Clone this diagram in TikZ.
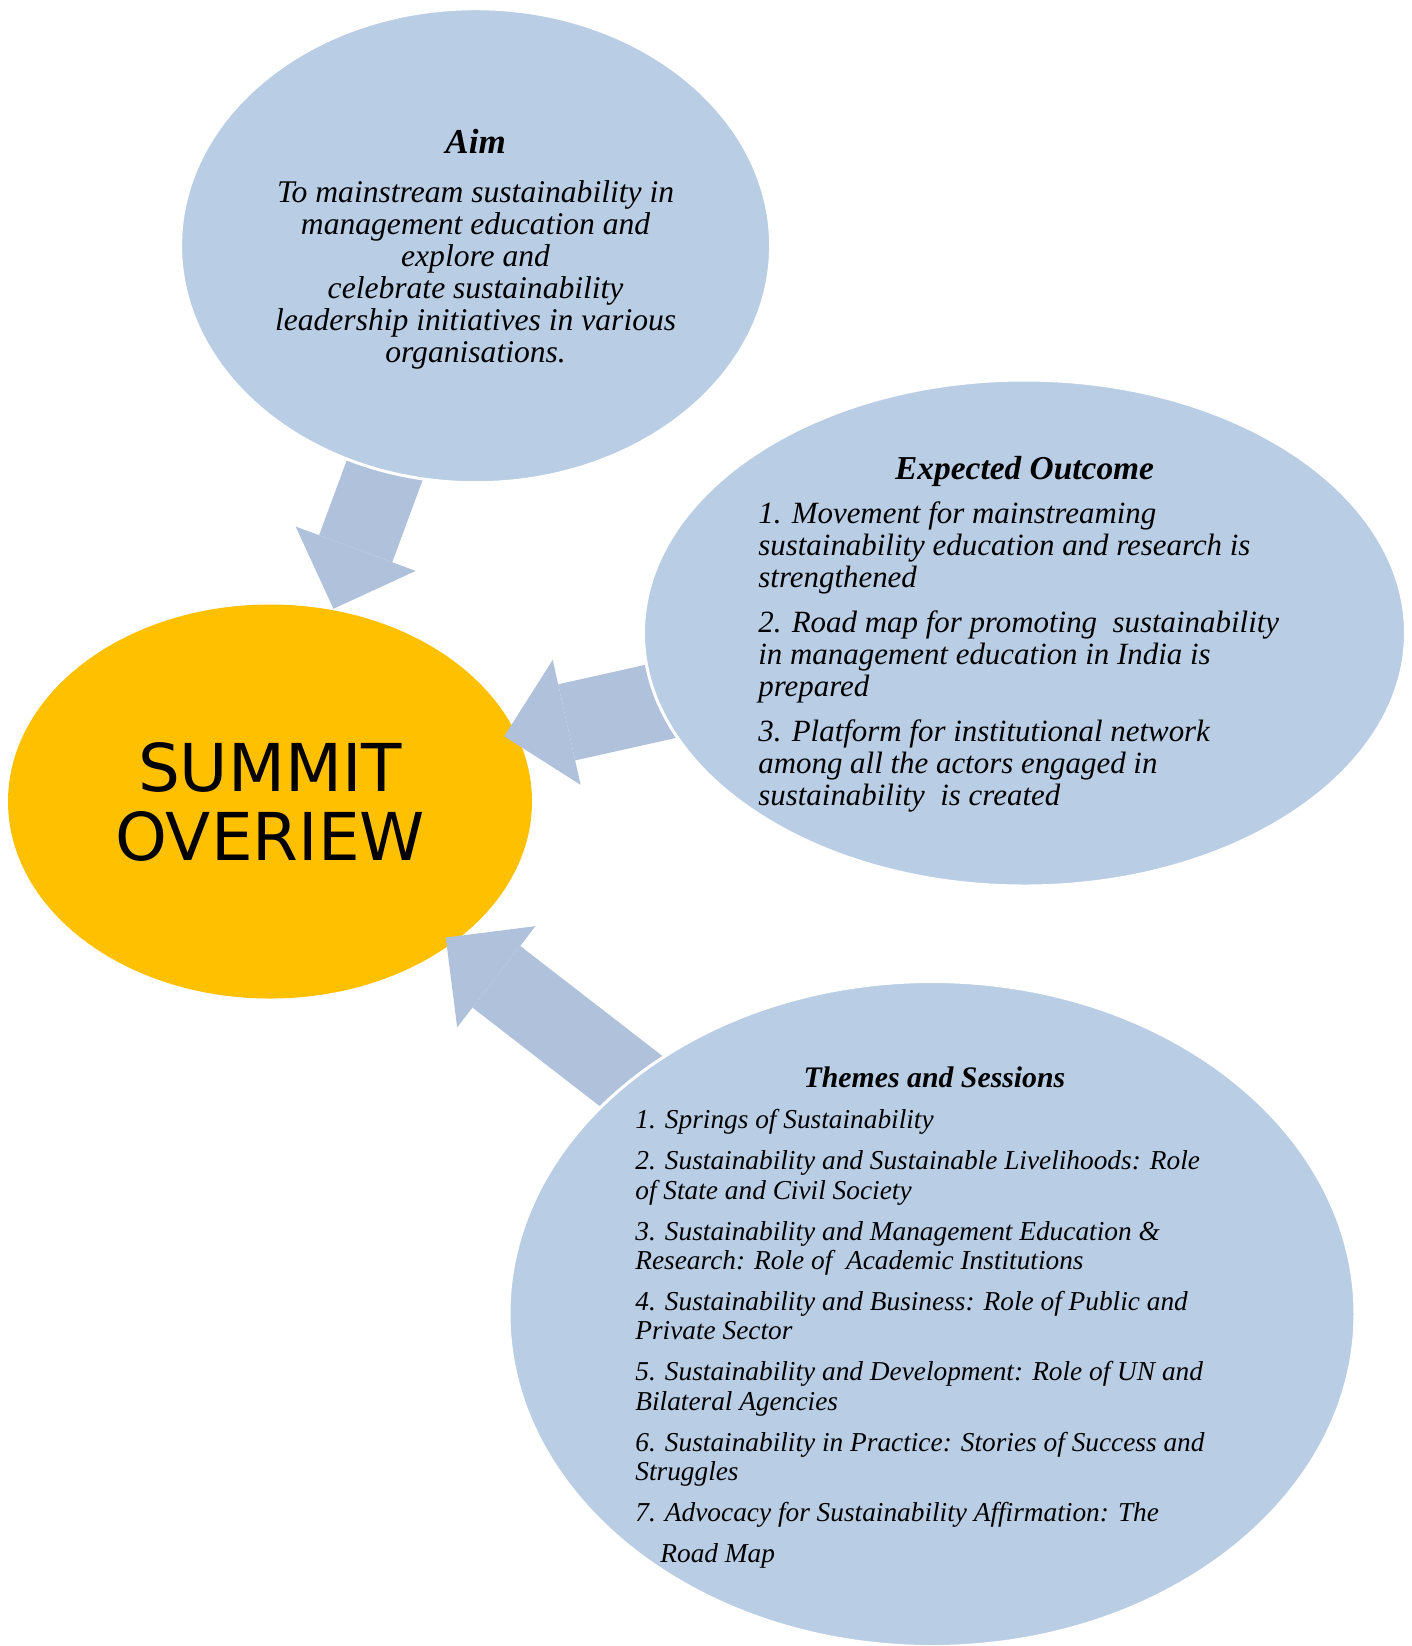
\documentclass[tikz,border=0pt]{standalone}
\usepackage{fontspec}
\setmainfont{Liberation Serif}
\newfontfamily\ovfont{DejaVu Sans}
\usetikzlibrary{shapes.geometric,arrows.meta}
\definecolor{elblue}{RGB}{185,205,229}
\definecolor{arblue}{RGB}{176,193,220}
\definecolor{ovorange}{RGB}{255,192,0}
\pgfdeclarelayer{back}
\pgfdeclarelayer{mid}
\pgfsetlayers{back,mid,main}
\tikzset{
  el/.style 2 args={ellipse, fill=elblue, draw=white, line width=1.5pt, inner sep=0pt,
    minimum width=#1, minimum height=#2},
  ov/.style={ellipse, fill=ovorange, inner sep=0pt, minimum width=262pt, minimum height=197pt,
    align=center, font=\ovfont\fontsize{33}{34.5}\selectfont},
  tx/.style={inner sep=0pt, font=\fontsize{#1}{16}\selectfont\itshape},
  tt/.style={inner sep=0pt, font=\fontsize{#1}{14.7}\selectfont\itshape},
  % shaft drawn again under the tip, so no seam shows
  ar/.style 2 args={draw=arblue, line width=39pt, shorten <=-30pt, shorten >=#1,
    -{Triangle[width=64pt, length=32pt, line width=0pt]},
    preaction={draw=arblue, -, shorten >=#2}}
}

\begin{document}
\begin{tikzpicture}[x=0.5pt, y=-0.5pt]
  \useasboundingbox (0,0) rectangle (1412,1646);

  \begin{pgfonlayer}{back}
    \node[ov] (summit) at (270,801.5) {SUMMIT\\OVERIEW};
  \end{pgfonlayer}

  \node[el={295pt}{237pt}] (aim) at (475.6,245.7) {};
  \node[el={381pt}{253pt}] (outcome) at (1024.5,633) {};
  \node[el={423pt}{332.5pt}] (themes) at (932,1314) {};

  % texts
  \node[tx=15.8, align=center] (aimtext) at (475.6,249) {{\fontsize{17.5}{16}\selectfont\bfseries Aim}\\[8.5pt]
    To mainstream sustainability in\\management education and\\explore and\\
    celebrate sustainability\\leadership initiatives in various\\organisations.};
  \node[tx=16.7] (outhead) at (1024.6,471) {\bfseries Expected Outcome};
  \node[tx=15.45, align=left, anchor=north west] (outbody) at (758,501) {%
    1. Movement for mainstreaming\\sustainability education and research is\\strengthened\\[6.5pt]
    2. Road map for promoting~ sustainability\\in management education in India is\\prepared\\[6.5pt]
    3. Platform for institutional network\\among all the actors engaged in\\sustainability~ is created};
  \node[tt=14.9] (themehead) at (934.5,1077) {\bfseries Themes and Sessions};
  \node[tt=13.66, align=left, anchor=north west] (themebody) at (635,1109) {%
    1. Springs of Sustainability\\[5.8pt]
    2. Sustainability and Sustainable Livelihoods: Role\\of State and Civil Society\\[5.8pt]
    3. Sustainability and Management Education \&\\Research: Role of~ Academic Institutions\\[5.8pt]
    4. Sustainability and Business: Role of Public and\\Private Sector\\[5.8pt]
    5. Sustainability and Development: Role of UN and\\Bilateral Agencies\\[5.8pt]
    6. Sustainability in Practice: Stories of Success and\\Struggles\\[5.8pt]
    7. Advocacy for Sustainability Affirmation: The\\[5.8pt]
    \hspace*{12.5pt}Road Map};

  \begin{pgfonlayer}{mid}
    \draw[ar={0pt}{29pt}, transform canvas={shift={(-6.9,-2.6)}}] (aim) -- (summit);
    \draw[ar={-7.5pt}{21.5pt}, transform canvas={shift={(-2.7,-12.3)}}] (outcome) -- (summit);
    \draw[ar={-4.5pt}{24.5pt}] (themes) -- (summit);
  \end{pgfonlayer}
\end{tikzpicture}
\end{document}
